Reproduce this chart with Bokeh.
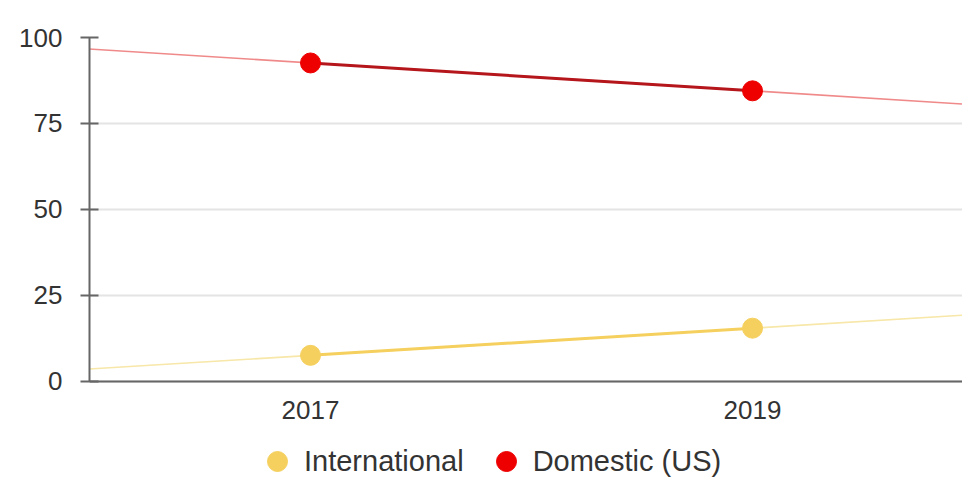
import numpy as np
from bokeh.plotting import figure
from bokeh.models import FixedTicker, Legend, LegendItem, Range1d
from bokeh.embed import file_html
from bokeh.resources import INLINE

# ---- data ----
years = [2017, 2019]
international = [7.6, 15.5]
domestic = [92.6, 84.5]
series_names = ["International", "Domestic (US)"]
x_ticks = [2017, 2019]
y_ticks = [0, 25, 50, 75, 100]

# ---- styles ----
FONT = "Liberation Sans"
YELLOW = "#f5d05e"
YELLOW_TREND = "#f7e7a8"
RED = "#ee0000"
RED_LINE = "#b5161b"
RED_TREND = "#f08a8a"

p = figure(width=962, height=478, output_backend="svg", toolbar_location=None,
           x_range=Range1d(2016.0, 2019.95), y_range=Range1d(-28.2, 100),
           min_border_left=89, min_border_top=37, min_border_right=0,
           min_border_bottom=0)
p.outline_line_color = None
p.background_fill_color = "white"
p.border_fill_color = "white"

# trend lines (least squares fit through the series, extended across the axis)
xt = np.array([2015.8, 2020.2])
for ys, col in [(international, YELLOW_TREND), (domestic, RED_TREND)]:
    k, b = np.polyfit(years, ys, 1)
    p.line(xt, k * xt + b, line_color=col, line_width=1.6)

p.line(years, international, line_color=YELLOW, line_width=3)
p.line(years, domestic, line_color=RED_LINE, line_width=3)
r_int = p.scatter(years, international, size=20, fill_color=YELLOW, line_color=YELLOW)
r_dom = p.scatter(years, domestic, size=20, fill_color=RED, line_color=RED)

# axes
p.xaxis.ticker = FixedTicker(ticks=x_ticks)
p.yaxis.ticker = FixedTicker(ticks=y_ticks)
for ax in (p.xaxis[0], p.yaxis[0]):
    ax.axis_line_color = "#666666"
    ax.axis_line_width = 2
    ax.major_tick_line_color = "#666666"
    ax.major_tick_line_width = 2
    ax.minor_tick_line_color = None
    ax.major_label_text_font = FONT
    ax.major_label_text_font_size = "26px"
    ax.major_label_text_color = "#333333"
p.yaxis.major_label_standoff = 18
p.yaxis.bounds = (0, 100)
p.yaxis.major_tick_in = 9
p.yaxis.major_tick_out = 9
p.xaxis.major_label_standoff = 20
p.xaxis.major_tick_in = 0
p.xaxis.major_tick_out = 0
p.xaxis.major_tick_line_color = None
p.xaxis.fixed_location = 0

p.xgrid.grid_line_color = None
p.ygrid.grid_line_color = "#e4e4e4"
p.ygrid.grid_line_width = 2
p.ygrid.ticker = FixedTicker(ticks=y_ticks)

legend = Legend(items=[LegendItem(label=series_names[0], renderers=[r_int]),
                       LegendItem(label=series_names[1], renderers=[r_dom])],
                orientation="horizontal", location=(163, -8),
                glyph_width=50, glyph_height=50, label_standoff=2, spacing=17,
                label_text_font=FONT, label_text_font_size="29px",
                label_text_color="#333333", border_line_color=None,
                background_fill_alpha=0, padding=0, margin=0)
p.add_layout(legend, "center")

open("out.html", "w").write(file_html(p, INLINE))
